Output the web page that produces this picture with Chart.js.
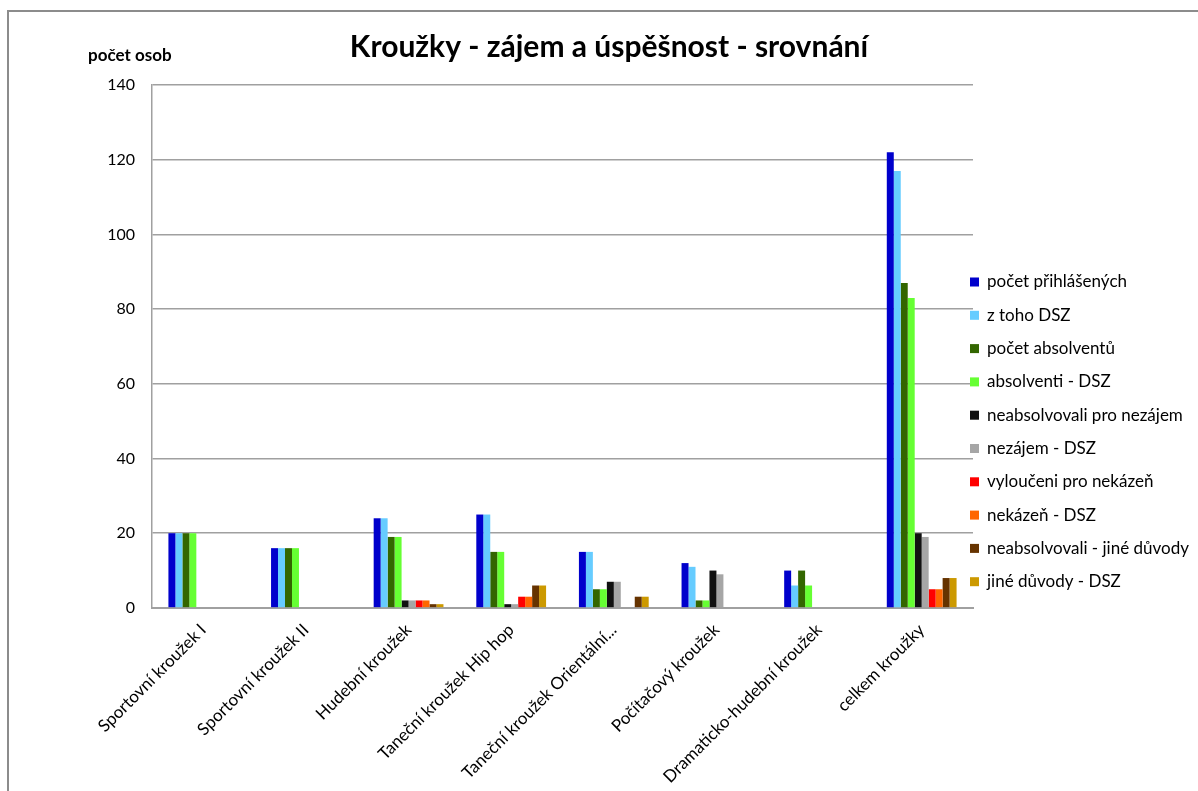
<!DOCTYPE html>
<html>
<head>
<meta charset="utf-8">
<script src="https://cdn.jsdelivr.net/npm/chart.js@4"></script>
<style>
  html, body { margin: 0; padding: 0; background: #fff; overflow: hidden; }
  #frame { position: absolute; left: 7px; top: 10px; width: 1300px; height: 900px;
           border-left: 2px solid #8c8c8c; border-top: 2px solid #8c8c8c; }
  #wrap { position: absolute; left: 0; top: 0; width: 1198px; height: 791px; }
</style>
</head>
<body>
<div id="frame"></div>
<div id="wrap"><canvas id="c"></canvas></div>
<script>
/* ── data ── */
const categories = [
  'Sportovní kroužek I', 'Sportovní kroužek II', 'Hudební kroužek',
  'Taneční kroužek Hip hop', 'Taneční kroužek Orientální...', 'Počítačový kroužek',
  'Dramaticko-hudební kroužek', 'celkem kroužky'
];
const seriesNames = [
  'počet přihlášených', 'z toho DSZ', 'počet absolventů', 'absolventi - DSZ',
  'neabsolvovali pro nezájem', 'nezájem - DSZ', 'vyloučeni pro nekázeň',
  'nekázeň - DSZ', 'neabsolvovali - jiné důvody', 'jiné důvody - DSZ'
];
const prihlaseni      = [20, 16, 24, 25, 15, 12, 10, 122];
const prihlaseniDSZ   = [20, 16, 24, 25, 15, 11, 6, 117];
const absolventi      = [20, 16, 19, 15, 5, 2, 10, 87];
const absolventiDSZ   = [20, 16, 19, 15, 5, 2, 6, 83];
const nezajem         = [0, 0, 2, 1, 7, 10, 0, 20];
const nezajemDSZ      = [0, 0, 2, 1, 7, 9, 0, 19];
const vylouceni       = [0, 0, 2, 3, 0, 0, 0, 5];
const nekazenDSZ      = [0, 0, 2, 3, 0, 0, 0, 5];
const jineDuvody      = [0, 0, 1, 6, 3, 0, 0, 8];
const jineDuvodyDSZ   = [0, 0, 1, 6, 3, 0, 0, 8];
const yTicks = [0, 20, 40, 60, 80, 100, 120, 140];

const seriesValues = [prihlaseni, prihlaseniDSZ, absolventi, absolventiDSZ, nezajem,
                      nezajemDSZ, vylouceni, nekazenDSZ, jineDuvody, jineDuvodyDSZ];
const COLORS = ['#0000CC', '#66CCFF', '#336600', '#66FF33', '#111111',
                '#A6A6A6', '#FF0000', '#FF6600', '#663300', '#CC9900'];

const FONT = 'Lato, "Open Sans", sans-serif';
Chart.defaults.font.family = FONT;
Chart.defaults.color = '#000';

/* y-axis caption drawn horizontally above the axis */
const axisCaption = {
  id: 'axisCaption',
  afterDraw(chart) {
    const { ctx, chartArea } = chart;
    ctx.save();
    ctx.font = 'bold 17px ' + FONT;
    ctx.fillStyle = '#000';
    ctx.textAlign = 'left';
    ctx.textBaseline = 'middle';
    ctx.fillText('počet osob', chartArea.left - 64, chartArea.top - 29);
    ctx.restore();
  }
};

/* Excel-style legend: sits on the right, just touching the gridline ends */
const sideLegend = {
  id: 'sideLegend',
  afterDraw(chart) {
    const { ctx, chartArea } = chart;
    const step = 33.3;
    const y0 = chartArea.top + 197;
    ctx.save();
    ctx.font = '17px ' + FONT;
    ctx.textAlign = 'left';
    ctx.textBaseline = 'middle';
    chart.data.datasets.forEach((ds, i) => {
      const y = y0 + i * step;
      ctx.fillStyle = ds.backgroundColor;
      ctx.fillRect(chartArea.right - 3, y - 4.5, 9, 9);
      ctx.fillStyle = '#000';
      ctx.fillText(ds.label, chartArea.right + 14, y);
    });
    ctx.restore();
  }
};

new Chart(document.getElementById('c'), {
  type: 'bar',
  data: {
    labels: categories,
    datasets: seriesNames.map((name, i) => ({
      label: name,
      data: seriesValues[i],
      backgroundColor: COLORS[i],
      borderWidth: 0,
      barPercentage: 1,
      categoryPercentage: 0.68,
    }))
  },
  options: {
    responsive: true,
    maintainAspectRatio: false,
    animation: false,
    layout: { padding: { left: 20, right: 0, top: 0, bottom: 0 } },
    plugins: {
      title: {
        display: true,
        text: 'Kroužky - zájem a úspěšnost - srovnání',
        font: { size: 30, weight: 'bold' },
        color: '#000',
        padding: { top: 29, bottom: 20 }
      },
      legend: { display: false },
      tooltip: { enabled: false }
    },
    scales: {
      x: {
        grid: { display: false },
        border: { display: true, color: '#a0a0a0', width: 2 },
        ticks: { maxRotation: 45, minRotation: 45, autoSkip: false, font: { size: 17 }, color: '#000', padding: 4 }
      },
      y: {
        min: 0, max: 140,
        afterBuildTicks: axis => { axis.ticks = yTicks.map(v => ({ value: v })); },
        afterFit: axis => { axis.width = 132; },
        grid: { color: '#a0a0a0', lineWidth: 1.5, drawTicks: false },
        border: { display: true, color: '#a0a0a0', width: 1.5 },
        ticks: { font: { size: 16 }, color: '#000', padding: 17 }
      },
      legendSpace: {
        type: 'linear',
        position: 'right',
        afterFit: axis => { axis.width = 225; },
        grid: { display: false, drawTicks: false },
        border: { display: false },
        ticks: { display: false }
      }
    }
  },
  plugins: [axisCaption, sideLegend]
});
</script>
</body>
</html>
